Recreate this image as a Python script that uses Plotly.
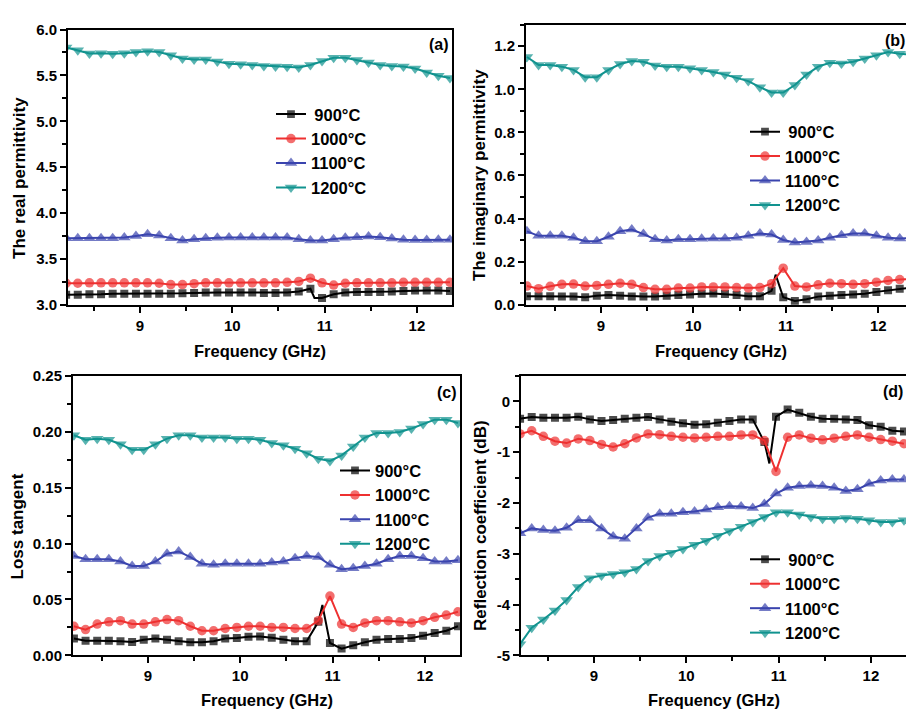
import plotly.graph_objects as go

# ---------------- data ----------------
FREQ = [8.200, 8.326, 8.452, 8.578, 8.704, 8.830, 8.956, 9.082, 9.208, 9.334,
        9.460, 9.586, 9.712, 9.838, 9.964, 10.090, 10.216, 10.342, 10.468, 10.594,
        10.720, 10.846, 10.972, 11.098, 11.224, 11.350, 11.476, 11.602, 11.728, 11.854,
        11.980, 12.106, 12.232, 12.358]

LABELS = ["900°C", "1000°C", "1100°C", "1200°C"]

# (a) real permittivity
A_900 = [3.110, 3.110, 3.115, 3.115, 3.120, 3.120, 3.120, 3.120, 3.120, 3.120,
         3.125, 3.130, 3.135, 3.135, 3.135, 3.135, 3.135, 3.130, 3.130, 3.135,
         3.145, 3.175, 3.075, 3.115, 3.135, 3.140, 3.140, 3.140, 3.145, 3.150,
         3.155, 3.155, 3.155, 3.150]
A_1000 = [3.235, 3.235, 3.240, 3.240, 3.240, 3.240, 3.240, 3.240, 3.235, 3.220,
          3.220, 3.230, 3.240, 3.240, 3.240, 3.240, 3.240, 3.240, 3.240, 3.245,
          3.255, 3.290, 3.240, 3.215, 3.235, 3.240, 3.240, 3.240, 3.240, 3.245,
          3.245, 3.245, 3.245, 3.245]
A_1100 = [3.726, 3.726, 3.726, 3.726, 3.726, 3.733, 3.750, 3.768, 3.754, 3.726,
          3.700, 3.715, 3.726, 3.730, 3.733, 3.733, 3.733, 3.733, 3.733, 3.733,
          3.715, 3.700, 3.700, 3.715, 3.730, 3.736, 3.744, 3.736, 3.722, 3.708,
          3.705, 3.705, 3.708, 3.708]
A_1200 = [5.805, 5.773, 5.738, 5.740, 5.735, 5.740, 5.755, 5.763, 5.755, 5.720,
          5.685, 5.674, 5.674, 5.650, 5.628, 5.620, 5.614, 5.603, 5.596, 5.593,
          5.586, 5.614, 5.656, 5.692, 5.692, 5.667, 5.640, 5.614, 5.603, 5.596,
          5.575, 5.532, 5.497, 5.472]
A_900_SPIKE_X = [10.89]
A_900_SPIKE_Y = [3.075]

# (b) imaginary permittivity
B_900 = [0.040, 0.040, 0.040, 0.038, 0.038, 0.035, 0.042, 0.045, 0.042, 0.039,
         0.038, 0.038, 0.042, 0.045, 0.048, 0.051, 0.053, 0.050, 0.045, 0.040,
         0.040, 0.065, 0.035, 0.018, 0.026, 0.038, 0.042, 0.045, 0.048, 0.051,
         0.060, 0.068, 0.075, 0.080]
B_1000 = [0.087, 0.075, 0.086, 0.095, 0.096, 0.087, 0.090, 0.095, 0.100, 0.095,
          0.080, 0.072, 0.072, 0.078, 0.078, 0.083, 0.083, 0.083, 0.080, 0.078,
          0.080, 0.098, 0.170, 0.087, 0.083, 0.093, 0.100, 0.098, 0.095, 0.098,
          0.105, 0.113, 0.117, 0.120]
B_1100 = [0.341, 0.320, 0.320, 0.320, 0.311, 0.295, 0.295, 0.316, 0.341, 0.349,
          0.328, 0.304, 0.298, 0.304, 0.304, 0.307, 0.308, 0.308, 0.311, 0.320,
          0.331, 0.326, 0.301, 0.289, 0.292, 0.298, 0.311, 0.323, 0.331, 0.331,
          0.320, 0.311, 0.308, 0.310]
B_1200 = [1.150, 1.113, 1.113, 1.105, 1.090, 1.056, 1.056, 1.090, 1.117, 1.131,
          1.128, 1.110, 1.105, 1.105, 1.098, 1.090, 1.080, 1.068, 1.053, 1.038,
          1.010, 0.985, 0.985, 1.020, 1.068, 1.105, 1.123, 1.120, 1.128, 1.143,
          1.158, 1.173, 1.165, 1.160]
B_900_SPIKE_X = [10.89]
B_900_SPIKE_Y = [0.140]

# (c) loss tangent
C_900 = [0.015, 0.013, 0.013, 0.013, 0.0125, 0.012, 0.014, 0.015, 0.014, 0.0125,
         0.0117, 0.0117, 0.0125, 0.015, 0.0154, 0.0166, 0.0169, 0.0157, 0.014, 0.0125,
         0.0125, 0.030, 0.011, 0.006, 0.009, 0.0117, 0.014, 0.0146, 0.0146, 0.0154,
         0.0175, 0.020, 0.022, 0.026]
C_1000 = [0.026, 0.023, 0.028, 0.030, 0.031, 0.028, 0.028, 0.030, 0.032, 0.031,
          0.026, 0.022, 0.022, 0.024, 0.025, 0.026, 0.026, 0.025, 0.025, 0.024,
          0.024, 0.031, 0.053, 0.028, 0.025, 0.029, 0.031, 0.031, 0.030, 0.029,
          0.031, 0.034, 0.036, 0.039]
C_1100 = [0.089, 0.086, 0.086, 0.086, 0.084, 0.080, 0.080, 0.084, 0.091, 0.093,
          0.088, 0.082, 0.081, 0.082, 0.082, 0.082, 0.082, 0.083, 0.084, 0.087,
          0.089, 0.088, 0.081, 0.077, 0.078, 0.080, 0.082, 0.086, 0.089, 0.089,
          0.087, 0.084, 0.084, 0.085]
C_1200 = [0.197, 0.193, 0.194, 0.193, 0.189, 0.184, 0.184, 0.189, 0.194, 0.197,
          0.197, 0.195, 0.195, 0.195, 0.194, 0.194, 0.193, 0.190, 0.188, 0.185,
          0.181, 0.176, 0.174, 0.179, 0.187, 0.195, 0.199, 0.199, 0.200, 0.203,
          0.207, 0.211, 0.211, 0.208]
C_900_SPIKE_X = [10.89]
C_900_SPIKE_Y = [0.045]

# (d) reflection coefficient
D_900 = [-0.340, -0.308, -0.320, -0.320, -0.320, -0.301, -0.353, -0.385, -0.365, -0.340,
         -0.320, -0.308, -0.353, -0.397, -0.430, -0.460, -0.450, -0.417, -0.385, -0.353,
         -0.353, -0.800, -0.300, -0.160, -0.224, -0.300, -0.340, -0.340, -0.353, -0.365,
         -0.468, -0.500, -0.577, -0.590]
D_1000 = [-0.640, -0.577, -0.686, -0.782, -0.820, -0.737, -0.770, -0.846, -0.897, -0.833,
          -0.718, -0.640, -0.654, -0.686, -0.705, -0.718, -0.705, -0.686, -0.686, -0.660,
          -0.660, -0.770, -1.378, -0.705, -0.660, -0.724, -0.756, -0.724, -0.686, -0.660,
          -0.705, -0.750, -0.782, -0.833]
D_1100 = [-2.596, -2.500, -2.532, -2.545, -2.487, -2.340, -2.340, -2.500, -2.660, -2.705,
          -2.500, -2.288, -2.210, -2.210, -2.180, -2.167, -2.128, -2.083, -2.064, -2.070,
          -2.100, -2.020, -1.814, -1.700, -1.667, -1.654, -1.667, -1.700, -1.763, -1.730,
          -1.622, -1.558, -1.538, -1.538]
D_1200 = [-4.780, -4.455, -4.295, -4.115, -3.910, -3.654, -3.480, -3.430, -3.397, -3.365,
          -3.300, -3.140, -3.045, -2.980, -2.904, -2.820, -2.744, -2.647, -2.550, -2.468,
          -2.372, -2.276, -2.180, -2.180, -2.224, -2.276, -2.308, -2.308, -2.295, -2.308,
          -2.340, -2.372, -2.372, -2.340]
D_900_SPIKE_X = [10.90]
D_900_SPIKE_Y = [-1.220]

X_TICKS = [9, 10, 11, 12]
X_TICK_TEXT = ["9", "10", "11", "12"]
A_TICKS = [3.0, 3.5, 4.0, 4.5, 5.0, 5.5, 6.0]
A_TICK_TEXT = ["3.0", "3.5", "4.0", "4.5", "5.0", "5.5", "6.0"]
B_TICKS = [0.0, 0.2, 0.4, 0.6, 0.8, 1.0, 1.2]
B_TICK_TEXT = ["0.0", "0.2", "0.4", "0.6", "0.8", "1.0", "1.2"]
C_TICKS = [0.0, 0.05, 0.10, 0.15, 0.20, 0.25]
C_TICK_TEXT = ["0.00", "0.05", "0.10", "0.15", "0.20", "0.25"]
D_TICKS = [-5, -4, -3, -2, -1, 0]
D_TICK_TEXT = ["-5", "-4", "-3", "-2", "-1", "0"]

X_TITLE = "Frequency (GHz)"
Y_TITLES = ["The real permittivity", "The imaginary permittivity",
            "Loss tangent", "Reflection coefficient (dB)"]
PANEL_TAGS = ["(a)", "(b)", "(c)", "(d)"]

# ---------------- style ----------------
FONT = "Liberation Sans, Arial, sans-serif"
COLORS = ["#000000", "#EE3030", "#3A44AE", "#11938F"]
SYMBOLS = ["square", "circle", "triangle-up", "triangle-down"]
MSIZES = [8, 9.5, 11, 11]

fig = go.Figure()


def merge(base, sx, sy):
    pts = [(x, y, True) for x, y in zip(FREQ, base)] + [(x, y, False) for x, y in zip(sx, sy)]
    pts.sort(key=lambda p: p[0])
    return [p[0] for p in pts], [p[1] for p in pts], [p[2] for p in pts]


panels = [
    ([A_900, A_1000, A_1100, A_1200], (A_900_SPIKE_X, A_900_SPIKE_Y), "x", "y", "legend", True),
    ([B_900, B_1000, B_1100, B_1200], (B_900_SPIKE_X, B_900_SPIKE_Y), "x2", "y2", "legend2", True),
    ([C_900, C_1000, C_1100, C_1200], (C_900_SPIKE_X, C_900_SPIKE_Y), "x3", "y3", "legend3", False),
    ([D_900, D_1000, D_1100, D_1200], (D_900_SPIKE_X, D_900_SPIKE_Y), "x4", "y4", "legend4", True),
]

for series, spike, xa, ya, lg, pad900 in panels:
    for k, vals in enumerate(series):
        if k == 0:
            xs, ys, mk = merge(vals, spike[0], spike[1])
        else:
            xs, ys, mk = merge(vals, [], [])
        sizes = [MSIZES[k] if m else 0 for m in mk]
        name = LABELS[k]
        if k == 0 and pad900:
            name = "\u2009" + name
        fig.add_trace(go.Scatter(
            x=xs, y=ys, mode="lines+markers", name=name,
            xaxis=xa, yaxis=ya, legend=lg,
            line=dict(color=COLORS[k], width=2),
            marker=dict(symbol=SYMBOLS[k], size=sizes, color=COLORS[k],
                        line=dict(width=0)),
        ))

W, H = 906, 717


def px_x(v):
    return v / W


def px_y(v):
    return 1 - v / H


axis_common = dict(
    showgrid=False, zeroline=False, showline=True, linecolor="black", linewidth=2,
    ticks="outside", ticklen=6, tickwidth=1.5, tickcolor="black",
    tickfont=dict(family=FONT, size=15, color="black", weight="bold"),
)


def xaxis(domain, rng, anchor, mirror):
    return dict(axis_common, domain=domain, range=rng, anchor=anchor, mirror=mirror,
                tickmode="array", tickvals=X_TICKS, ticktext=X_TICK_TEXT,
                minor=dict(dtick=0.5, tick0=8.5, ticks="outside", ticklen=4,
                           tickwidth=1.5, tickcolor="black"))


def yaxis(domain, rng, anchor, vals, text, mdt, mirror):
    return dict(axis_common, domain=domain, range=rng, anchor=anchor, mirror=mirror,
                tickmode="array", tickvals=vals, ticktext=text,
                minor=dict(dtick=mdt, tick0=0, ticks="outside", ticklen=4,
                           tickwidth=1.5, tickcolor="black"))


top_y = [px_y(303), px_y(21)]
top_y_b = [px_y(303), px_y(16)]
bot_y = [px_y(662), px_y(376)]

legend_common = dict(
    font=dict(family=FONT, size=16.5, color="black", weight="bold"),
    bgcolor="rgba(0,0,0,0)", borderwidth=0, xanchor="left", yanchor="top",
    itemwidth=30, tracegroupgap=0,
)

annotations = []
title_font = dict(family=FONT, size=16.5, color="black", weight="bold")
ytitle_font = dict(family=FONT, size=17, color="black", weight="bold")
tag_font = dict(family=FONT, size=16, color="black", weight="bold")

for (xc, yc) in [(260, 350), (721, 350), (266.5, 708), (713.5, 708)]:
    annotations.append(dict(text=X_TITLE, x=px_x(xc), y=px_y(yc), xref="paper", yref="paper",
                            showarrow=False, xanchor="center", yanchor="middle", font=title_font))
for t, (xc, yc) in zip(Y_TITLES, [(20, 173), (480, 170), (17, 530), (481, 529.5)]):
    annotations.append(dict(text=t, x=px_x(xc), y=px_y(yc), xref="paper", yref="paper",
                            showarrow=False, xanchor="center", yanchor="middle",
                            textangle=-90, font=ytitle_font))
for t, (xl, yc) in zip(PANEL_TAGS, [(427, 36), (883, 32), (435, 393), (881, 392)]):
    annotations.append(dict(text=t, x=px_x(xl), y=px_y(yc), xref="paper", yref="paper",
                            showarrow=False, xanchor="left", yanchor="middle", font=tag_font))

fig.update_layout(
    width=W, height=H, autosize=False,
    margin=dict(l=0, r=0, t=0, b=0),
    paper_bgcolor="white", plot_bgcolor="white",
    showlegend=True,
    xaxis=xaxis([px_x(68), px_x(452)], [8.22, 12.38], "y", True),
    yaxis=yaxis(top_y, [3.0, 6.0], "x", A_TICKS, A_TICK_TEXT, 0.25, True),
    xaxis2=xaxis([px_x(526), 1.0], [8.19, 12.30], "y2", True),
    yaxis2=yaxis(top_y_b, [0.0, 1.3], "x2", B_TICKS, B_TICK_TEXT, 0.1, False),
    xaxis3=xaxis([px_x(73), px_x(460)], [8.19, 12.38], "y3", True),
    yaxis3=yaxis(bot_y, [0.0, 0.25], "x3", C_TICKS, C_TICK_TEXT, 0.025, True),
    xaxis4=xaxis([px_x(521), 1.0], [8.21, 12.38], "y4", True),
    yaxis4=yaxis(bot_y, [-5.0, 0.5], "x4", D_TICKS, D_TICK_TEXT, 0.5, False),
    legend=dict(legend_common, x=px_x(271), y=px_y(90)),
    legend2=dict(legend_common, x=px_x(745), y=px_y(108)),
    legend3=dict(legend_common, x=px_x(335), y=px_y(455)),
    legend4=dict(legend_common, x=px_x(745), y=px_y(546)),
    annotations=annotations,
)

fig.write_html("out.html")
